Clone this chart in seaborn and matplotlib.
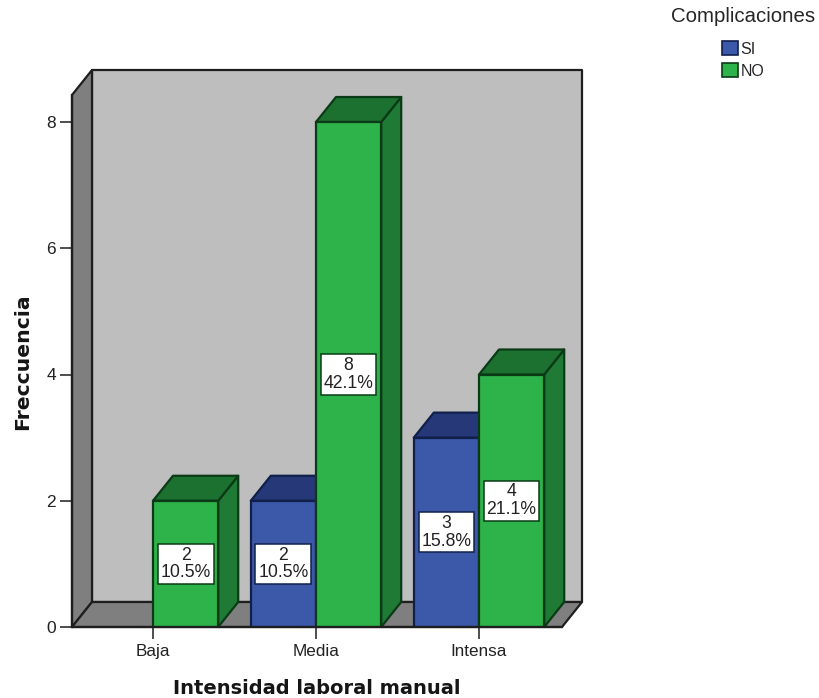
import matplotlib
matplotlib.use("Agg")
import matplotlib.pyplot as plt
from matplotlib.patches import Polygon
import pandas as pd
import seaborn as sns

categories = ["Baja", "Media", "Intensa"]
series_names = ["SI", "NO"]
si_values = [0, 2, 3]
no_values = [2, 8, 4]
si_percent = [None, "10.5%", "15.8%"]
no_percent = ["10.5%", "42.1%", "21.1%"]

FRONT = {"SI": "#3C58A8", "NO": "#2DB34A"}
TOP = {"SI": "#263878", "NO": "#1C7030"}
SIDE = {"SI": "#263878", "NO": "#1E7A34"}
EDGE = {"SI": "#10204A", "NO": "#0B3A16"}
INK = "#1E1E1E"

sns.set_theme(style="white")
plt.rcParams["font.family"] = ["Liberation Sans", "DejaVu Sans"]

fig = plt.figure(figsize=(8.19, 6.98), dpi=100)
W, H = 819, 698
ax = fig.add_axes([72 / W, 1 - 627 / H, (562 - 72) / W, (627 - 95) / H])

df = pd.DataFrame({
    "cat": categories * 2,
    "serie": ["SI"] * 3 + ["NO"] * 3,
    "n": si_values + no_values,
})
sns.barplot(data=df, x="cat", y="n", hue="serie", hue_order=series_names,
            order=categories, palette=FRONT, width=0.8, saturation=1,
            edgecolor="black", linewidth=0, ax=ax, legend=False)

ax.set_xlim((72 - 153) / 163, (562 - 153) / 163)
ax.set_ylim(0, (627 - 95) / 63.125)

# Oblique projection offset in data units (20 px across, 25 px up)
DX, DY = 20 / 163, 25 / 63.125
x0, x1 = ax.get_xlim()
y0, y1 = ax.get_ylim()


def face(points, fc, z, ec=INK, lw=1.6):
    ax.add_patch(Polygon(points, closed=True, facecolor=fc, edgecolor=ec,
                         linewidth=lw, zorder=z, clip_on=False,
                         joinstyle="round"))


# Box walls: back, left side and floor
face([(x0 + DX, y0 + DY), (x1 + DX, y0 + DY), (x1 + DX, y1 + DY), (x0 + DX, y1 + DY)],
     "#BEBEBE", 0.2)
face([(x0, y0), (x0 + DX, y0 + DY), (x0 + DX, y1 + DY), (x0, y1)], "#7F7F7F", 0.3)
face([(x0, y0), (x1, y0), (x1 + DX, y0 + DY), (x0 + DX, y0 + DY)], "#7F7F7F", 0.3)

# Bars: seaborn gives the front faces, the depth faces are built on top of them
z = 2.0
containers = dict(zip(series_names, ax.containers))
labels = {"SI": (si_values, si_percent), "NO": (no_values, no_percent)}
for name in series_names:
    values, percents = labels[name]
    for rect, value, percent in zip(containers[name], values, percents):
        if value == 0:
            rect.set_visible(False)
            continue
        left, right = rect.get_x(), rect.get_x() + rect.get_width()
        face([(right, 0), (right + DX, DY), (right + DX, value + DY), (right, value)],
             SIDE[name], z, EDGE[name])
        face([(left, value), (right, value), (right + DX, value + DY), (left + DX, value + DY)],
             TOP[name], z, EDGE[name])
        rect.set_edgecolor(EDGE[name])
        rect.set_linewidth(1.6)
        rect.set_zorder(z + 0.1)
        ax.text((left + right) / 2, value / 2, f"{value}\n{percent}",
                ha="center", va="center", fontsize=12.7, color="#222222",
                linespacing=1.05, zorder=10,
                bbox=dict(boxstyle="square,pad=0.16", facecolor="white",
                          edgecolor=EDGE[name], linewidth=1.1))
        z += 0.2

# Front plane frame and ticks
for side in ("top", "right"):
    ax.spines[side].set_visible(False)
for side in ("left", "bottom"):
    ax.spines[side].set_color(INK)
    ax.spines[side].set_linewidth(1.6)
    ax.spines[side].set_zorder(9)
ax.patch.set_visible(False)

ax.set_yticks([0, 2, 4, 6, 8])
ax.tick_params(axis="both", left=True, bottom=True, length=8.5, width=1.1,
               color=INK, labelsize=12.5, labelcolor="#222222", pad=3)
ax.tick_params(axis="x", labelsize=12.3, pad=4)
ax.set_xlabel("Intensidad laboral manual", fontsize=14, fontweight="bold",
              family="DejaVu Sans", color="#151515")
ax.set_ylabel("Freccuencia", fontsize=14.7, fontweight="bold",
              family="DejaVu Sans", color="#151515")
ax.xaxis.set_label_coords((317 - 72) / (562 - 72), (627 - 688) / (627 - 95),
                          transform=ax.transAxes)
ax.xaxis.label.set_va("center")
ax.yaxis.set_label_coords((23 - 72) / (562 - 72), (627 - 362) / (627 - 95),
                          transform=ax.transAxes)
ax.yaxis.label.set_va("center")

# Legend for the two groups
handles = [plt.Rectangle((0, 0), 1, 1, facecolor=FRONT[n], edgecolor=EDGE[n], linewidth=1.2)
           for n in series_names]
legend = fig.legend(handles, series_names, title="Complicaciones", frameon=False,
                    loc="upper center", bbox_to_anchor=(743 / W, 1 - 7 / H), fontsize=11.5,
                    title_fontsize=14.7, handlelength=1.0, handleheight=0.95,
                    handletextpad=0.15, labelspacing=0.42, borderpad=0, borderaxespad=0)
legend._legend_box.sep = 11

fig.savefig("out.png", dpi=100, facecolor="white")
